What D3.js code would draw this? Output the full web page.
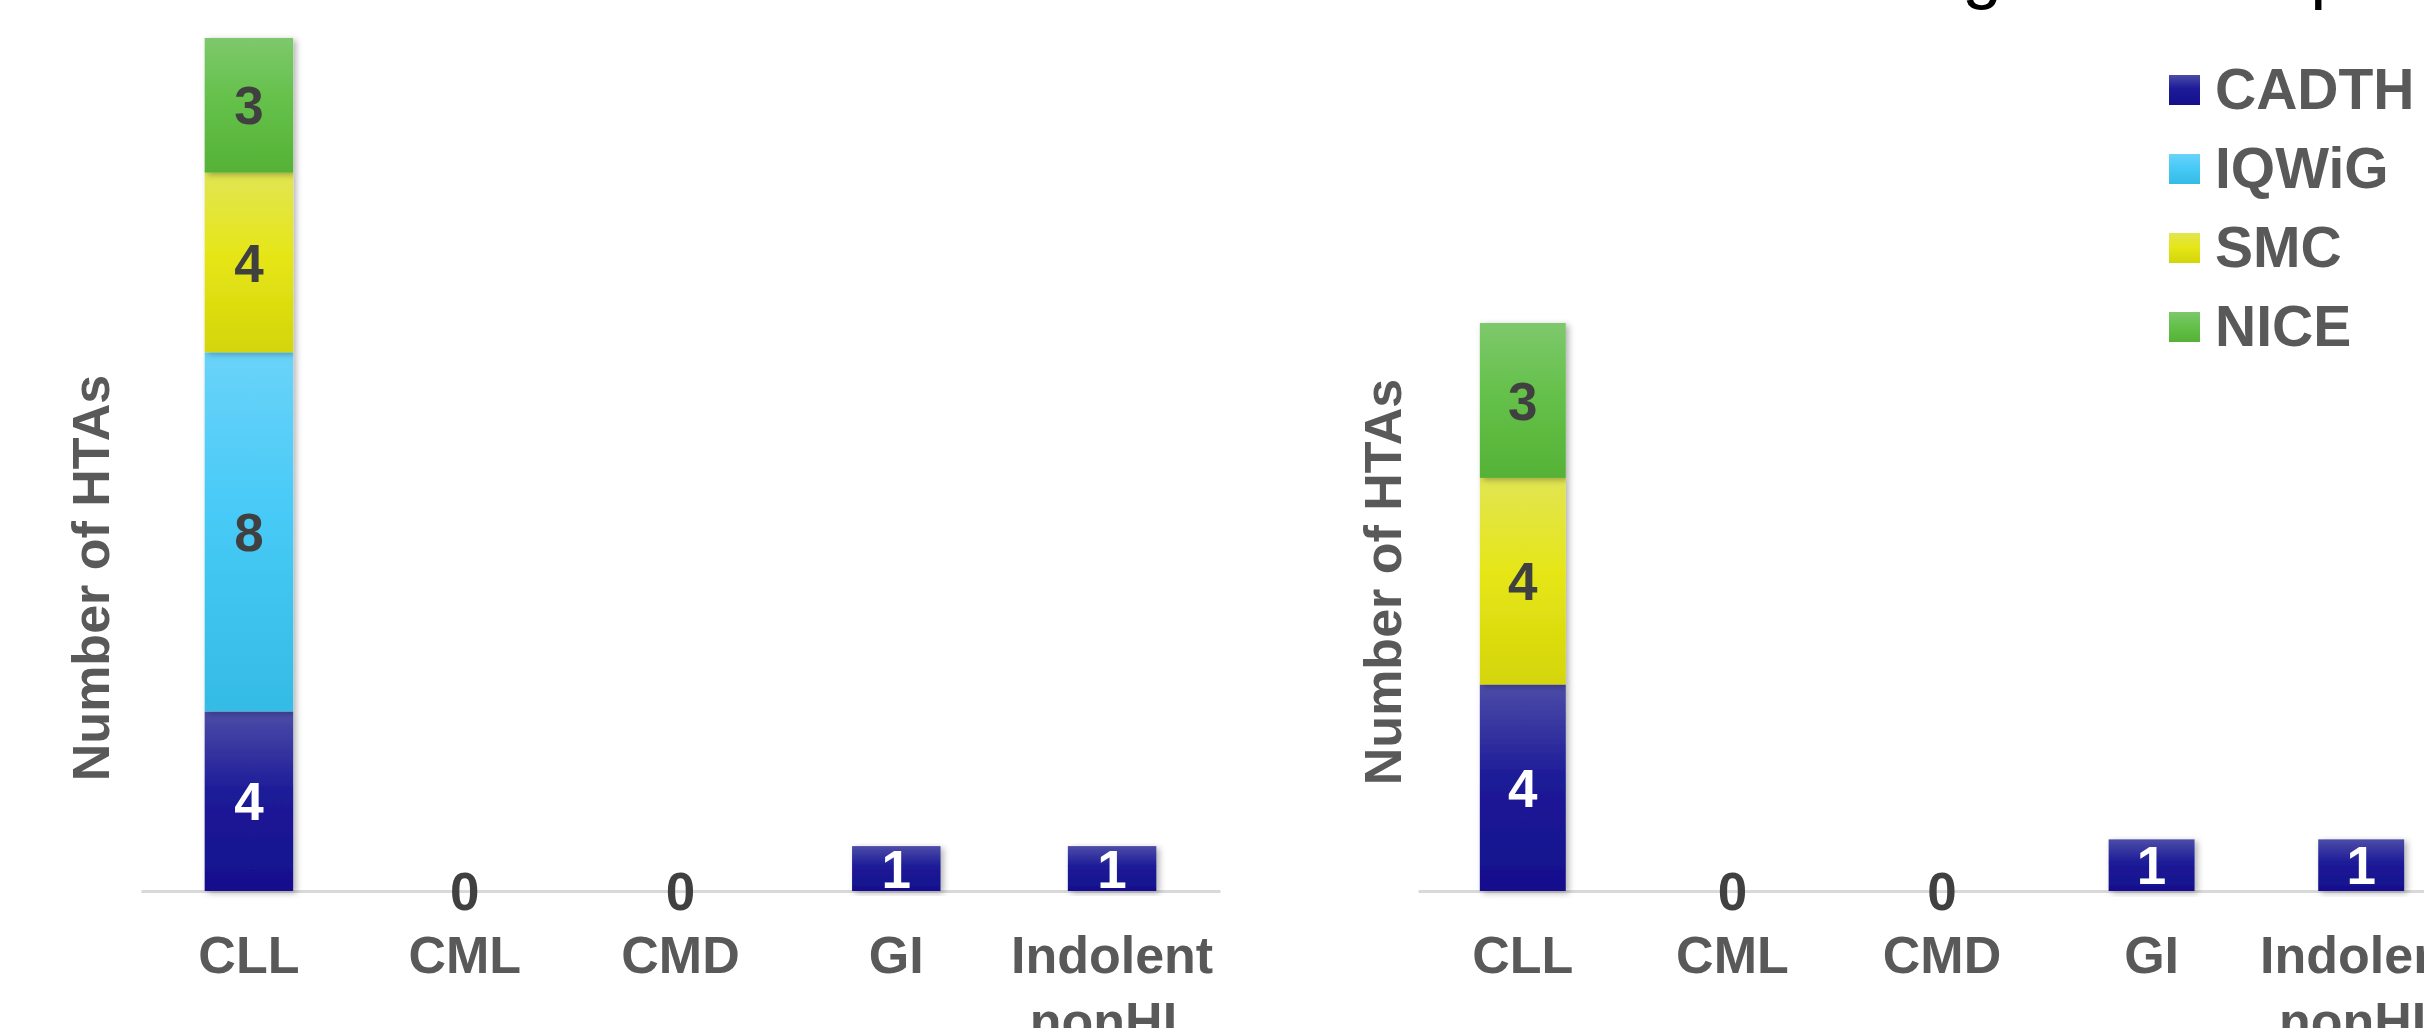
<!DOCTYPE html>
<html>
<head>
<meta charset="utf-8">
<script src="https://cdn.jsdelivr.net/npm/d3@7"></script>
<style>
  html, body { margin: 0; padding: 0; background: #ffffff; overflow: hidden; }
  svg { display: block; }
</style>
</head>
<body>
<svg id="chart" width="2424" height="1028"></svg>
<script>
// ---- data ----
const categories = ["CLL", "CML", "CMD", "GI", "Indolent nonHL"];
const agencies = ["CADTH", "IQWiG", "SMC", "NICE"];

// left panel: HTAs per indication and agency
const leftCADTH = [4, 0, 0, 1, 1];
const leftIQWiG = [8, 0, 0, 0, 0];
const leftSMC   = [4, 0, 0, 0, 0];
const leftNICE  = [3, 0, 0, 0, 0];

// right panel: HTAs per indication and agency
const rightCADTH = [4, 0, 0, 1, 1];
const rightIQWiG = [0, 0, 0, 0, 0];
const rightSMC   = [4, 0, 0, 0, 0];
const rightNICE  = [3, 0, 0, 0, 0];

const axisTitle = "Number of HTAs";
const titleText = "Submissions ending in a final positive recommendation";

// ---- styling ----
const gradStops = {
  CADTH: ["#4c4ca8", "#1d1b98", "#150f8d"],
  IQWiG: ["#6ad3f9", "#47caf7", "#34bbe5"],
  SMC:   ["#e1e552", "#e6e619", "#d4d508"],
  NICE:  ["#7dc86c", "#65c14a", "#55b236"]
};
const labelColor = { CADTH: "#ffffff", IQWiG: "#404040", SMC: "#404040", NICE: "#404040" };
const textGray = "#595959";
const FONT = "'Liberation Sans', Arial, Helvetica, sans-serif";

const svg = d3.select("#chart");
const defs = svg.append("defs");

agencies.forEach(a => {
  const g = defs.append("linearGradient")
    .attr("id", "grad-" + a)
    .attr("x1", 0).attr("y1", 0).attr("x2", 0).attr("y2", 1);
  const s = gradStops[a];
  g.append("stop").attr("offset", "0%").attr("stop-color", s[0]);
  g.append("stop").attr("offset", "45%").attr("stop-color", s[1]);
  g.append("stop").attr("offset", "100%").attr("stop-color", s[2]);
});

const shadow = defs.append("filter").attr("id", "barShadow")
  .attr("x", "-20%").attr("y", "-5%").attr("width", "150%").attr("height", "115%");
shadow.append("feDropShadow")
  .attr("dx", 3).attr("dy", 2).attr("stdDeviation", 3)
  .attr("flood-color", "#000").attr("flood-opacity", 0.3);

function buildRows(c, i, q, n) {
  return categories.map((cat, k) => ({ category: cat, CADTH: c[k], IQWiG: i[k], SMC: q[k], NICE: n[k] }));
}

function drawPanel(opts) {
  const rows = buildRows(...opts.series);
  const x = d3.scaleBand()
    .domain(categories)
    .range([opts.x0, opts.x1])
    .paddingInner(0.59)
    .paddingOuter(0.295);
  const y = d3.scaleLinear().domain([0, opts.yMax]).range([opts.base, opts.top]);

  const g = svg.append("g");

  // baseline axis
  const axis = d3.axisBottom(x).tickSize(0).tickFormat("");
  const ax = g.append("g").attr("transform", `translate(0,${opts.base})`).call(axis);
  ax.select(".domain").attr("stroke", "#d9d9d9").attr("stroke-width", 3);

  // stacked bars
  const stacked = d3.stack().keys(agencies)(rows);
  stacked.forEach(layer => {
    const key = layer.key;
    const segs = layer.filter(d => d[1] - d[0] > 0);
    g.append("g").selectAll("rect")
      .data(segs)
      .join("rect")
      .attr("x", d => x(d.data.category))
      .attr("width", x.bandwidth())
      .attr("y", d => y(d[1]))
      .attr("height", d => y(d[0]) - y(d[1]))
      .attr("fill", `url(#grad-${key})`)
      .attr("filter", "url(#barShadow)");

    g.append("g").selectAll("text")
      .data(segs)
      .join("text")
      .attr("x", d => x(d.data.category) + x.bandwidth() / 2)
      .attr("y", d => (y(d[0]) + y(d[1])) / 2)
      .attr("dy", "0.36em")
      .attr("text-anchor", "middle")
      .attr("font-family", FONT)
      .attr("font-weight", "bold")
      .attr("font-size", 53)
      .attr("fill", labelColor[key])
      .text(d => d[1] - d[0]);
  });

  // zero totals
  const zeros = rows.filter(r => agencies.reduce((s, a) => s + r[a], 0) === 0);
  g.append("g").selectAll("text")
    .data(zeros)
    .join("text")
    .attr("x", d => x(d.category) + x.bandwidth() / 2)
    .attr("y", y(0))
    .attr("dy", "0.36em")
    .attr("text-anchor", "middle")
    .attr("font-family", FONT)
    .attr("font-weight", "bold")
    .attr("font-size", 53)
    .attr("fill", "#404040")
    .text(0);

  // category labels
  const catText = g.append("g").selectAll("text")
    .data(categories)
    .join("text")
    .attr("x", d => x(d) + x.bandwidth() / 2)
    .attr("y", opts.base + 82)
    .attr("text-anchor", "middle")
    .attr("font-family", FONT)
    .attr("font-weight", "bold")
    .attr("font-size", 52)
    .attr("fill", textGray);
  catText.each(function (d) {
    const words = d.split(" ");
    const t = d3.select(this);
    words.forEach((w, i) => {
      t.append("tspan")
        .attr("x", x(d) + x.bandwidth() / 2)
        .attr("dy", i === 0 ? 0 : 66)
        .text(w);
    });
  });

  // y-axis title
  g.append("text")
    .attr("transform", `translate(${opts.titleX},${opts.titleY}) rotate(-90)`)
    .attr("text-anchor", "middle")
    .attr("dy", "0.36em")
    .attr("font-family", FONT)
    .attr("font-weight", "bold")
    .attr("font-size", 52)
    .attr("fill", textGray)
    .text(axisTitle);
}

drawPanel({
  series: [leftCADTH, leftIQWiG, leftSMC, leftNICE],
  x0: 141, x1: 1220, base: 891, top: 38, yMax: 19,
  titleX: 90, titleY: 578
});

drawPanel({
  series: [rightCADTH, rightIQWiG, rightSMC, rightNICE],
  x0: 1418, x1: 2466, base: 891, top: 323, yMax: 11,
  titleX: 1382, titleY: 582
});

// legend
const legend = svg.append("g").attr("transform", "translate(2169,90)");
agencies.forEach((a, i) => {
  const row = legend.append("g").attr("transform", `translate(0,${i * 79})`);
  row.append("rect")
    .attr("x", 0).attr("y", -15)
    .attr("width", 31).attr("height", 30)
    .attr("fill", `url(#grad-${a})`);
  row.append("text")
    .attr("x", 46).attr("y", 0)
    .attr("dy", "0.34em")
    .attr("font-family", FONT)
    .attr("font-weight", "bold")
    .attr("font-size", 57)
    .attr("fill", textGray)
    .text(a);
});

// page title (sits mostly above the visible area)
const title = svg.append("text")
  .attr("y", -5)
  .attr("font-family", FONT)
  .attr("font-size", 72)
  .attr("fill", "#000")
  .text(titleText);
const gIdx = titleText.indexOf("ending") + 5;
const offset = title.node().getSubStringLength(0, gIdx);
title.attr("x", 1962 - offset);
</script>
</body>
</html>
